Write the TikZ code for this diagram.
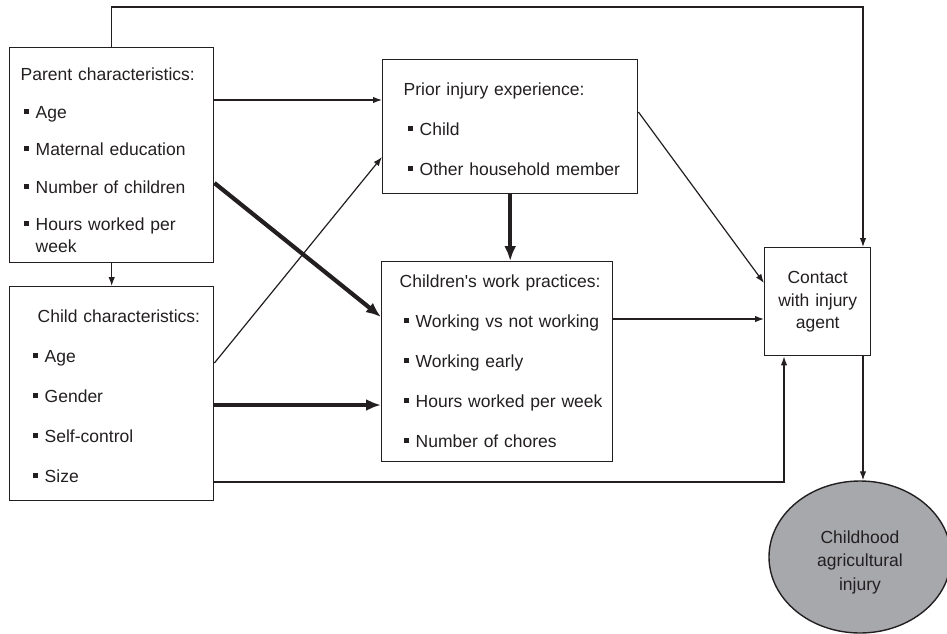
\documentclass[tikz,border=0pt]{standalone}
\usepackage{fontspec}
\setmainfont{Liberation Sans}
\usetikzlibrary{arrows.meta,shapes.geometric,positioning,calc}
\definecolor{ink}{RGB}{35,31,32}
\definecolor{injurygray}{RGB}{167,168,172}
\newcommand{\itm}{\rule[4.5pt]{5pt}{5pt}\hspace{7pt}}

\begin{document}
\begin{tikzpicture}[x=1pt,y=-1pt]
    % Define styles
    \tikzstyle{factor} = [rectangle, draw=ink, line width=1.4pt, inner sep=0pt, anchor=north west, align=left, text=ink, font=\fontsize{17.5}{22}\selectfont]
    \tikzstyle{outcome} = [ellipse, draw=ink, line width=1.4pt, fill=injurygray, inner sep=0pt, minimum width=182pt, minimum height=152pt, text width=110pt, align=center, text=ink, font=\fontsize{17.5}{23.5}\selectfont]
    \tikzstyle{arrow} = [draw=ink, line width=1.2pt, -{Latex[length=9pt,width=6.5pt]}]
    \tikzstyle{heavy} = [draw=ink, line width=4.2pt, -{Latex[length=15pt,width=12pt]}]

    \useasboundingbox (0,0) rectangle (947,634);

    % Parent and child
    \node[factor, text width=204pt, text height=33pt, text depth=182pt] (parent) at (9,47)
        {\leftskip=11pt\relax Parent characteristics:\\[15.5pt]
         \hspace*{3pt}\itm Age\\[15.5pt]
         \hspace*{3pt}\itm Maternal education\\[15.5pt]
         \hspace*{3pt}\itm Number of children\\[15.5pt]
         \hspace*{3pt}\itm Hours worked per\\
         \hspace*{15pt}week\par};
    \node[factor, text width=204pt, text height=36pt, text depth=178pt] (child) at (9,286)
        {\leftskip=23pt\relax\hspace*{5pt}Child characteristics:\\[18pt]
         \itm Age\\[18pt]
         \itm Gender\\[18pt]
         \itm Self-control\\[18pt]
         \itm Size\par};

    % Middle column
    \node[factor, text width=255pt, text height=36pt, text depth=98pt] (prior) at (382,59)
        {\leftskip=21pt\relax Prior injury experience:\\[18pt]
         \hspace*{4pt}\itm Child\\[18pt]
         \hspace*{4pt}\itm Other household member\par};
    \node[factor, text width=231pt, text height=26pt, text depth=174pt] (work) at (381,261)
        {\leftskip=18pt\relax Children\textquotesingle s work practices:\\[18pt]
         \hspace*{4pt}\itm Working vs not working\\[18pt]
         \hspace*{4pt}\itm Working early\\[18pt]
         \hspace*{4pt}\itm Hours worked per week\\[18pt]
         \hspace*{4pt}\itm Number of chores\par};

    % Contact and outcome
    \node[factor, align=center, text width=106pt, text height=36pt, text depth=72pt,
          font=\fontsize{17.5}{22.5}\selectfont] (contact) at (764,247)
        {Contact\\with injury\\agent};
    \node[outcome, text height=20pt, text depth=48pt] (injury) at (860,557)
        {Childhood\\agricultural\\injury};

    \coordinate (loop) at (863,7);

    % Arrows
    \draw[arrow] (parent) -- (child);
    \draw[arrow] (parent.north) |- (loop) -- (loop |- contact.north);
    \draw[arrow] (parent.east |- 0,100) -- (prior.west |- 0,100);
    \draw[arrow] (child.east |- 0,363) -- (prior.west |- 0,157);
    \draw[heavy] (parent.east |- 0,183) -- (work.west |- 0,317);
    \draw[heavy] (child.east |- 0,405) -- (work.west |- 0,405);
    \draw[arrow] (child.east |- 0,482) -| (784,0 |- contact.south);
    \draw[heavy] (prior.south) -- (prior.south |- work.north);
    \draw[arrow] (prior.east |- 0,112) -- (contact.west |- 0,283);
    \draw[arrow] (work.east |- 0,319) -- (contact.west |- 0,319);
    \draw[arrow] (loop |- contact.south) -- (loop |- injury.north);

\end{tikzpicture}
\end{document}
